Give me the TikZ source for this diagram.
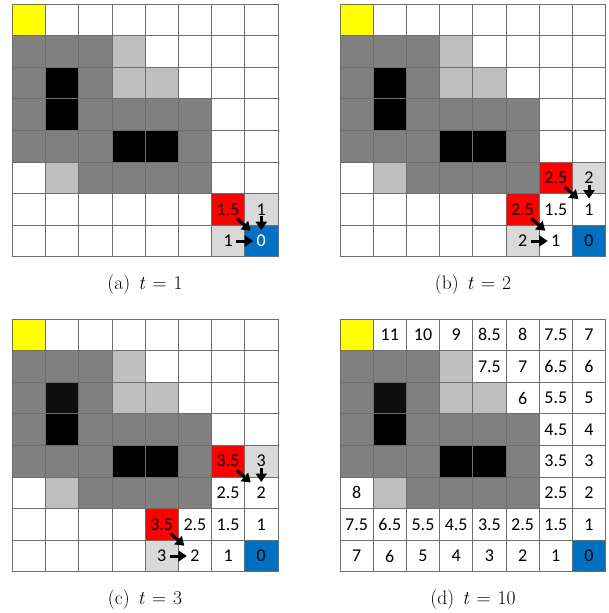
\documentclass[tikz,border=0pt]{standalone}
\usepackage{fontspec}
\newfontfamily\cellfont{Carlito}
\usetikzlibrary{calc,arrows.meta}
\definecolor{dg}{RGB}{128,128,128}
\definecolor{lg}{RGB}{191,191,191}
\definecolor{vlg}{RGB}{217,217,217}
\definecolor{nblk}{RGB}{13,13,13}
\definecolor{blk}{RGB}{0,0,0}
\definecolor{rd}{RGB}{255,0,0}
\definecolor{yl}{RGB}{255,255,0}
\definecolor{bl}{RGB}{0,112,192}
\definecolor{gl}{RGB}{110,110,110}
\tikzset{
  cell/.style={minimum width=33.2pt,minimum height=31.6pt,inner sep=0pt,outer sep=0pt},
  num/.style={inner sep=0pt,font=\cellfont\fontsize{18}{20}\selectfont},
  gridln/.style={draw=gl,line width=0.8pt},
  pathar/.style={line width=3pt,-{Triangle[length=8.5pt,width=11pt]}},
  capt/.style={anchor=base,font=\fontsize{19.5}{22}\selectfont}
}
\newcommand\capttext[2]{(#1)\hspace{0.42em}\textit{t}\hspace{0.36em}=\hspace{0.36em}#2}
\newcommand\mkpanel[4]{% name, x0, y0, colour of cell (2,1)
  \foreach \r in {0,...,7}{\foreach \c in {0,...,7}{
    \node[cell] (#1-\r-\c) at ({#2+(\c+0.5)*33.2},{#3+(\r+0.5)*31.6}) {};
  }}
  \foreach \r/\c/\col in {0/0/yl,1/0/dg,1/1/dg,1/2/dg,1/3/lg,2/0/dg,2/1/#4,2/2/dg,2/3/lg,2/4/lg,
      3/0/dg,3/1/blk,3/2/dg,3/3/dg,3/4/dg,3/5/dg,4/0/dg,4/1/dg,4/2/dg,4/3/blk,4/4/blk,4/5/dg,
      5/1/lg,5/2/dg,5/3/dg,5/4/dg,5/5/dg,7/7/bl}
    \fill[\col] (#1-\r-\c.north west) rectangle (#1-\r-\c.south east);
}
\newcommand\mkgrid[1]{%
  \foreach \c in {0,...,7}{\draw[gridln] (#1-0-\c.north west) -- (#1-7-\c.south west);}
  \draw[gridln] (#1-0-7.north east) -- (#1-7-7.south east);
  \foreach \r in {0,...,7}{\draw[gridln] (#1-\r-0.north west) -- (#1-\r-7.north east);}
  \draw[gridln] (#1-7-0.south west) -- (#1-7-7.south east);
}
\newcommand\diagar[5]{\draw[pathar] ($(#1-#2-#3.north west)+(25.5,25)$) -- ($(#1-#4-#5.north west)+(6,5.5)$);}
\newcommand\downar[5]{\draw[pathar] ($(#1-#2-#3.north)+(0,22.5)$) -- ($(#1-#4-#5.north)+(0,5)$);}
\newcommand\rightar[5]{\draw[pathar] ($(#1-#2-#3.west)+(24.5,0)$) -- ($(#1-#4-#5.west)+(8.5,0)$);}
\begin{document}
\begin{tikzpicture}[x=1pt,y=-1pt]
\useasboundingbox (0,0) rectangle (608,613);
% ---------- panel (a)
\mkpanel{A}{12.3}{4}{blk}
\foreach \r/\c/\col in {6/6/rd,6/7/vlg,7/6/vlg}
  \fill[\col] (A-\r-\c.north west) rectangle (A-\r-\c.south east);
\mkgrid{A}
\node[num] (A-t-6-6) at (A-6-6) {1.5};
\node[num] (A-t-6-7) at (A-6-7) {1};
\node[num] (A-t-7-6) at (A-7-6) {1};
\node[num,text=white] (A-t-7-7) at (A-7-7) {0};
\diagar{A}{6}{6}{7}{7}
\downar{A}{6}{7}{7}{7}
\rightar{A}{7}{6}{7}{7}
% ---------- panel (b)
\mkpanel{B}{340}{4}{blk}
\foreach \r/\c/\col in {5/6/rd,5/7/vlg,6/5/rd,7/5/vlg}
  \fill[\col] (B-\r-\c.north west) rectangle (B-\r-\c.south east);
\mkgrid{B}
\foreach \r/\c/\v in {5/6/2.5,5/7/2,6/5/2.5,6/6/1.5,6/7/1,7/5/2,7/6/1,7/7/0}
  \node[num] (B-t-\r-\c) at (B-\r-\c) {\v};
\diagar{B}{5}{6}{6}{7}
\downar{B}{5}{7}{6}{7}
\diagar{B}{6}{5}{7}{6}
\rightar{B}{7}{5}{7}{6}
% ---------- panel (c)
\mkpanel{C}{12.3}{319}{nblk}
\foreach \r/\c/\col in {4/6/rd,4/7/vlg,6/4/rd,7/4/vlg}
  \fill[\col] (C-\r-\c.north west) rectangle (C-\r-\c.south east);
\mkgrid{C}
\foreach \r/\c/\v in {4/6/3.5,4/7/3,5/6/2.5,5/7/2,6/4/3.5,6/5/2.5,6/6/1.5,6/7/1,7/4/3,7/5/2,7/6/1,7/7/0}
  \node[num] (C-t-\r-\c) at (C-\r-\c) {\v};
\diagar{C}{4}{6}{5}{7}
\downar{C}{4}{7}{5}{7}
\diagar{C}{6}{4}{7}{5}
\rightar{C}{7}{4}{7}{5}
% ---------- panel (d)
\mkpanel{D}{340}{319}{nblk}
\mkgrid{D}
\foreach \r/\c/\v in {0/1/11,0/2/10,0/3/9,0/4/8.5,0/5/8,0/6/7.5,0/7/7,
    1/4/7.5,1/5/7,1/6/6.5,1/7/6,2/5/6,2/6/5.5,2/7/5,3/6/4.5,3/7/4,4/6/3.5,4/7/3,
    5/0/8,5/6/2.5,5/7/2,
    6/0/7.5,6/1/6.5,6/2/5.5,6/3/4.5,6/4/3.5,6/5/2.5,6/6/1.5,6/7/1,
    7/0/7,7/1/6,7/2/5,7/3/4,7/4/3,7/5/2,7/6/1,7/7/0}
  \node[num] (D-t-\r-\c) at (D-\r-\c) {\v};
% ---------- captions
\node[capt] (capA) at (145,289) {\capttext{a}{1}};
\node[capt] (capB) at (473,289) {\capttext{b}{2}};
\node[capt] (capC) at (145,604) {\capttext{c}{3}};
\node[capt] (capD) at (473,604) {\capttext{d}{10}};
\end{tikzpicture}
\end{document}
